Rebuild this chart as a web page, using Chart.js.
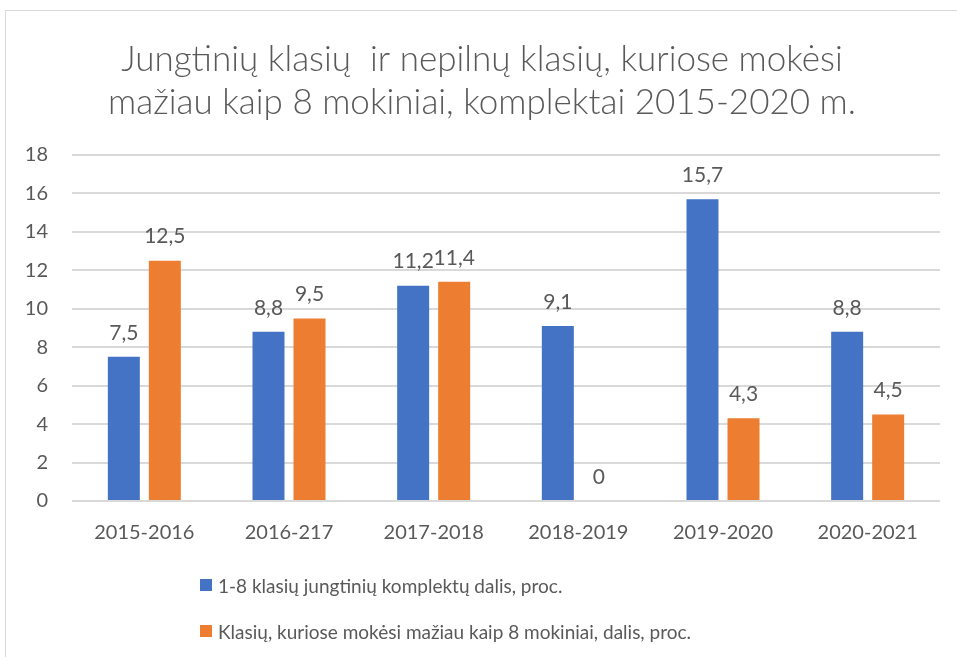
<!DOCTYPE html>
<html>
<head>
<meta charset="utf-8">
<script src="https://cdn.jsdelivr.net/npm/chart.js@4/dist/chart.umd.min.js"></script>
<style>
  html, body { margin: 0; padding: 0; background: #fff; overflow: hidden; }
  #frame { position: absolute; left: 5px; top: 10px; width: 1000px; height: 700px; border: 1px solid #d9d9d9; box-sizing: border-box; }
  #wrap { position: absolute; left: 0; top: 0; width: 957px; height: 584px; }
  #legend { position: absolute; left: 200px; top: 562px; font-family: Lato, sans-serif; font-size: 19px; color: #595959; }
  .item { display: flex; align-items: center; height: 46px; }
  .box { width: 12px; height: 12px; margin-right: 6px; }
</style>
</head>
<body>
<div id="frame"></div>
<div id="wrap"><canvas id="c" width="957" height="584"></canvas></div>
<div id="legend"></div>
<script>
const categories = ['2015-2016', '2016-217', '2017-2018', '2018-2019', '2019-2020', '2020-2021'];
const seriesNames = ['1-8 klasių jungtinių komplektų dalis, proc.', 'Klasių, kuriose mokėsi mažiau kaip 8 mokiniai, dalis, proc.'];
const jungtiniai = [7.5, 8.8, 11.2, 9.1, 15.7, 8.8];
const nepilni = [12.5, 9.5, 11.4, 0, 4.3, 4.5];
const yTicks = [0, 2, 4, 6, 8, 10, 12, 14, 16, 18];
const titleLines = ['Jungtinių klasių  ir nepilnų klasių, kuriose mokėsi', 'mažiau kaip 8 mokiniai, komplektai 2015-2020 m.'];
const colors = ['#4472C4', '#ED7D31'];
const textColor = '#595959';

const labelPlugin = {
  id: 'barLabels',
  afterDatasetsDraw(chart) {
    const ctx = chart.ctx;
    ctx.save();
    ctx.font = '21px Lato, sans-serif';
    ctx.fillStyle = textColor;
    ctx.textAlign = 'center';
    ctx.textBaseline = 'middle';
    chart.data.datasets.forEach((ds, i) => {
      const meta = chart.getDatasetMeta(i);
      meta.data.forEach((bar, j) => {
        const v = ds.data[j];
        ctx.fillText(String(v).replace('.', ','), bar.x, bar.y - 24);
      });
    });
    ctx.restore();
  }
};

new Chart(document.getElementById('c'), {
  type: 'bar',
  data: {
    labels: categories,
    datasets: [
      { label: seriesNames[0], data: jungtiniai, backgroundColor: colors[0], borderWidth: 0 },
      { label: seriesNames[1], data: nepilni, backgroundColor: colors[1], borderWidth: 0 }
    ]
  },
  options: {
    responsive: false,
    animation: false,
    categoryPercentage: 0.567,
    barPercentage: 0.78,
    layout: { padding: { left: 24, right: 17, top: 38, bottom: 19 } },
    plugins: {
      legend: { display: false },
      tooltip: { enabled: false },
      title: {
        display: true,
        text: titleLines,
        color: textColor,
        font: { family: 'Lato, sans-serif', size: 35, weight: 300, lineHeight: 43 / 35 },
        padding: { top: 0, bottom: 31 }
      }
    },
    scales: {
      x: {
        grid: { display: false, drawTicks: false },
        border: { display: false },
        ticks: { color: textColor, font: { family: 'Lato, sans-serif', size: 20 }, padding: 20 }
      },
      y: {
        min: 0, max: 18,
        afterBuildTicks(scale) { scale.ticks = yTicks.map(v => ({ value: v })); },
        afterFit(scale) { scale.width = 48; },
        grid: { color: '#d9d9d9', lineWidth: 2, drawTicks: false },
        border: { display: false },
        ticks: { color: textColor, font: { family: 'Lato, sans-serif', size: 20 }, padding: 24 }
      }
    }
  },
  plugins: [labelPlugin]
});

const leg = document.getElementById('legend');
seriesNames.forEach((name, i) => {
  const it = document.createElement('div');
  it.className = 'item';
  const b = document.createElement('span');
  b.className = 'box';
  b.style.background = colors[i];
  const t = document.createElement('span');
  t.textContent = name;
  it.appendChild(b); it.appendChild(t);
  leg.appendChild(it);
});
</script>
</body>
</html>
